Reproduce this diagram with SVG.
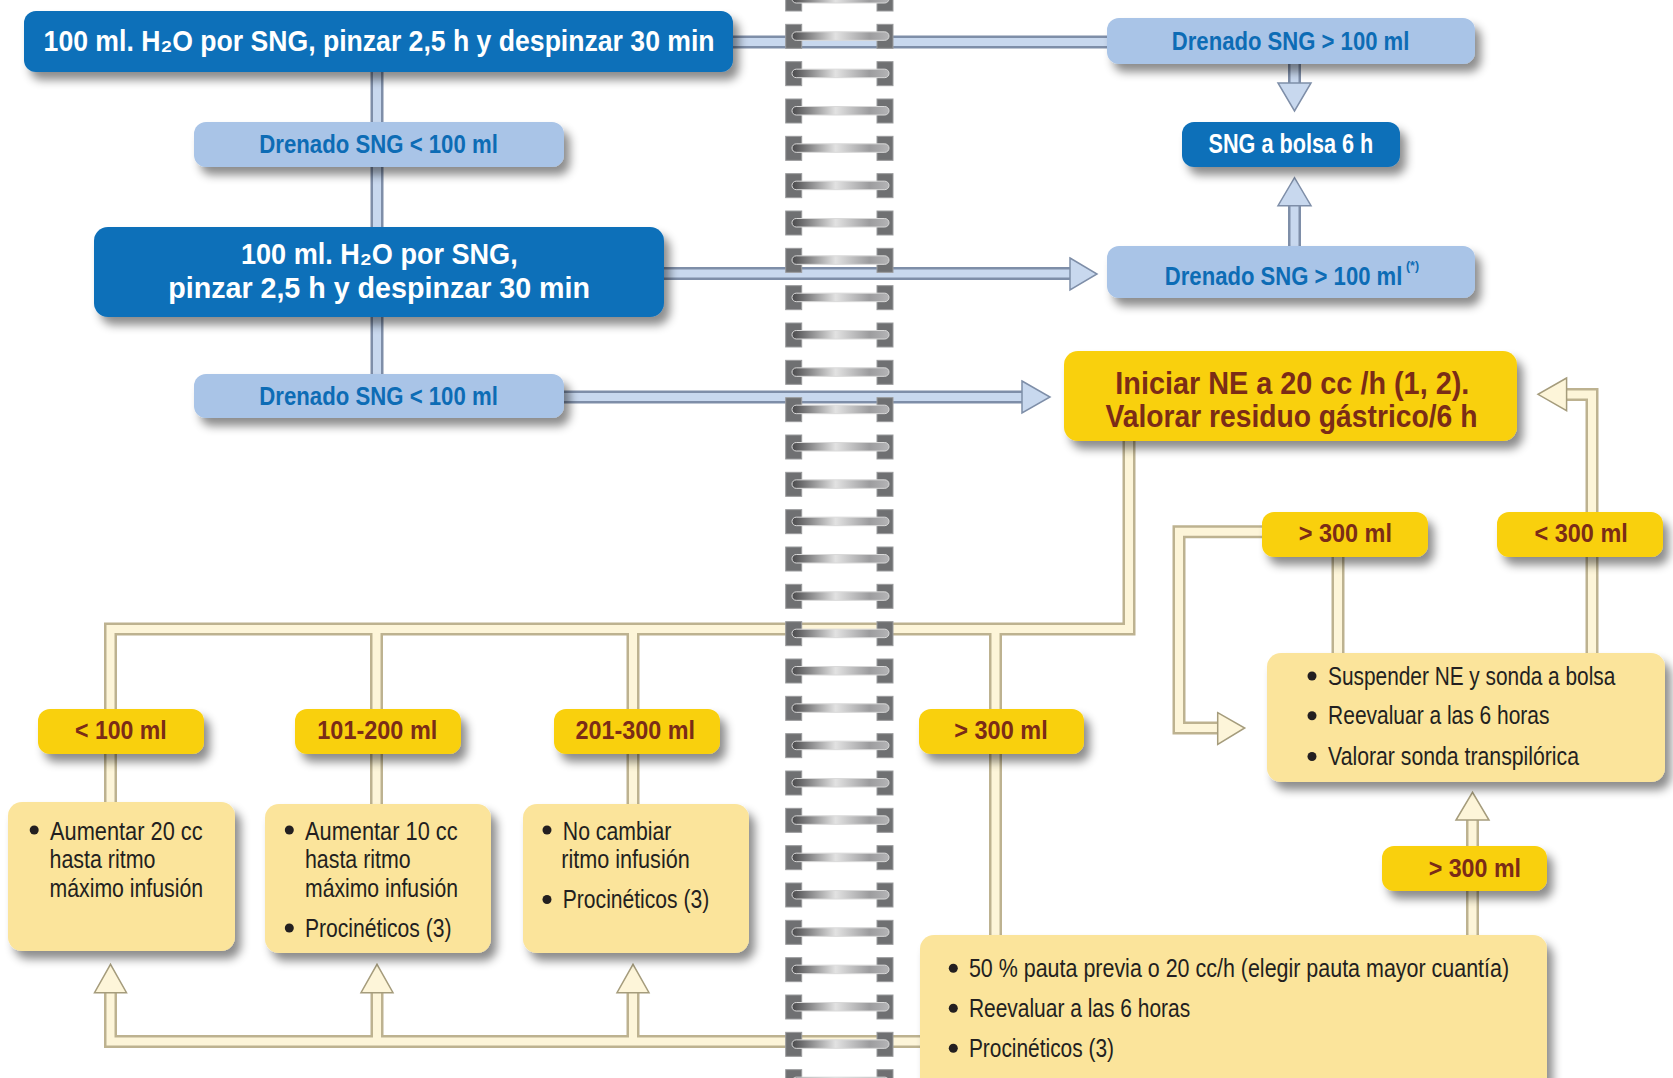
<svg xmlns="http://www.w3.org/2000/svg" width="1673" height="1078" viewBox="0 0 1673 1078">
  <defs>
    <style>
      .dark { fill: #0A6FB9; }
      .pale { fill: #A9C4E7; }
      .gold { fill: #F9D00E; }
      .cream { fill: #FBE49B; }
      .tw { font-family: "Liberation Sans", "DejaVu Sans", Arial, sans-serif; font-weight: bold; fill: #FFFFFF; }
      .tb { font-family: "Liberation Sans", Arial, sans-serif; font-weight: bold; fill: #0D6CB5; }
      .tr { font-family: "Liberation Sans", Arial, sans-serif; font-weight: bold; fill: #7B2C17; }
      .tn { font-family: "Liberation Sans", Arial, sans-serif; fill: #231F20; font-size: 25px; }
      .blue-out { fill: none; stroke: #7E8EA8; stroke-width: 13; stroke-linejoin: miter; }
      .blue-in { fill: none; stroke: #C8D8EE; stroke-width: 8; stroke-linejoin: miter; }
      .blue-head { fill: #C8D8EE; stroke: #7E8EA8; stroke-width: 1.5; stroke-linejoin: miter; }
      .yel-out { fill: none; stroke: #BDB290; stroke-width: 13; stroke-linejoin: miter; }
      .yel-in { fill: none; stroke: #FDF5D9; stroke-width: 8; stroke-linejoin: miter; }
      .yel-head { fill: #FDF5D9; stroke: #A59C7C; stroke-width: 1.5; stroke-linejoin: miter; }
      .dot { fill: #231F20; }
    </style>
    <filter id="shadow" x="-10%" y="-20%" width="130%" height="170%">
      <feDropShadow dx="6" dy="8" stdDeviation="5" flood-color="#000000" flood-opacity="0.45"/>
    </filter>
    <linearGradient id="bar" x1="0" y1="0" x2="1" y2="0">
      <stop offset="0" stop-color="#4A4A4C"/>
      <stop offset="0.45" stop-color="#E2E2E2"/>
      <stop offset="0.8" stop-color="#9C9C9E"/>
      <stop offset="1" stop-color="#B4B4B6"/>
    </linearGradient>
    <!-- one ring of the spiral binding -->
    <g id="ring">
      <rect x="785.7" y="0" width="16" height="24" fill="#6F7072" stroke="#9A9B9D" stroke-width="1"/>
      <rect x="877" y="0" width="16" height="24" fill="#6F7072" stroke="#9A9B9D" stroke-width="1"/>
      <rect x="792" y="7.5" width="97" height="8.5" rx="4.25" fill="url(#bar)" stroke="#D9D9D9" stroke-width="1"/>
    </g>
  </defs>

  <rect width="1673" height="1078" fill="#FFFFFF"/>

  <!-- connectors -->
  <g id="connectors">
    <!-- blue tubes -->
    <path class="blue-out" d="M377,70 V380 M730,42 H1110 M660,273.5 H1072 M560,397 H1024 M1294.5,62 V85 M1294.5,248 V204"/>
    <path class="blue-in" d="M377,70 V380 M730,42 H1110 M660,273.5 H1072 M560,397 H1024 M1294.5,62 V85 M1294.5,248 V204"/>
    <polygon class="blue-head" points="1070,258 1097,274 1070,290"/>
    <polygon class="blue-head" points="1022,381 1050,397 1022,413"/>
    <polygon class="blue-head" points="1278,83 1311,83 1294.5,111"/>
    <polygon class="blue-head" points="1278,205.7 1311,205.7 1294.5,177.7"/>

    <!-- yellow tubes -->
    <path class="yel-out" d="M1129,438 V629 H110.5 V805 M376.5,629 V806 M633,629 V806 M995.5,629 V938 M925,1041.5 H110.5 V990 M377,1041.5 V990 M633,1041.5 V990 M1265,531.7 H1179 V728 H1220 M1338,555 V656 M1592,656 V394.5 H1564 M1472.5,938 V818"/>
    <path class="yel-in" d="M1129,438 V629 H110.5 V805 M376.5,629 V806 M633,629 V806 M995.5,629 V938 M925,1041.5 H110.5 V990 M377,1041.5 V990 M633,1041.5 V990 M1265,531.7 H1179 V728 H1220 M1338,555 V656 M1592,656 V394.5 H1564 M1472.5,938 V818"/>
    <polygon class="yel-head" points="94.5,992.7 126.5,992.7 110.5,964.3"/>
    <polygon class="yel-head" points="361,992.7 393,992.7 377,964.3"/>
    <polygon class="yel-head" points="617,992.7 649,992.7 633,964.3"/>
    <polygon class="yel-head" points="1217.7,712.7 1244.7,728 1217.7,744.3"/>
    <polygon class="yel-head" points="1566.6,378 1538,394.3 1566.6,410.7"/>
    <polygon class="yel-head" points="1456,820 1489,820 1472.5,792.3"/>
  </g>

  <!-- spiral binding -->
  <g id="spiral">
    <use href="#ring" y="-13"/>
    <use href="#ring" y="24.33"/>
    <use href="#ring" y="61.67"/>
    <use href="#ring" y="99"/>
    <use href="#ring" y="136.33"/>
    <use href="#ring" y="173.67"/>
    <use href="#ring" y="211"/>
    <use href="#ring" y="248.33"/>
    <use href="#ring" y="285.67"/>
    <use href="#ring" y="323"/>
    <use href="#ring" y="360.33"/>
    <use href="#ring" y="397.67"/>
    <use href="#ring" y="435"/>
    <use href="#ring" y="472.33"/>
    <use href="#ring" y="509.67"/>
    <use href="#ring" y="547"/>
    <use href="#ring" y="584.33"/>
    <use href="#ring" y="621.67"/>
    <use href="#ring" y="659"/>
    <use href="#ring" y="696.33"/>
    <use href="#ring" y="733.67"/>
    <use href="#ring" y="771"/>
    <use href="#ring" y="808.33"/>
    <use href="#ring" y="845.67"/>
    <use href="#ring" y="883"/>
    <use href="#ring" y="920.33"/>
    <use href="#ring" y="957.67"/>
    <use href="#ring" y="995"/>
    <use href="#ring" y="1032.33"/>
    <use href="#ring" y="1069.67"/>
  </g>

  <!-- blue column -->
  <g id="node-h2o-1">
    <rect class="dark" x="24" y="11" width="709" height="61" rx="12" filter="url(#shadow)"/>
    <text class="tw" x="43.6" y="50.5" font-size="30" textLength="671" lengthAdjust="spacingAndGlyphs">100 ml. H₂O por SNG, pinzar 2,5 h y despinzar 30 min</text>
  </g>
  <g id="node-drenado-lt-1">
    <rect class="pale" x="194" y="122" width="370" height="45" rx="12" filter="url(#shadow)"/>
    <text class="tb" x="259.3" y="153" font-size="26" textLength="238.5" lengthAdjust="spacingAndGlyphs">Drenado SNG &lt; 100 ml</text>
  </g>
  <g id="node-h2o-2">
    <rect class="dark" x="94" y="227" width="570" height="90" rx="14" filter="url(#shadow)"/>
    <text class="tw" x="241" y="264" font-size="30" textLength="276.7" lengthAdjust="spacingAndGlyphs">100 ml. H₂O por SNG,</text>
    <text class="tw" x="168.2" y="297.7" font-size="30" textLength="421.8" lengthAdjust="spacingAndGlyphs">pinzar 2,5 h y despinzar 30 min</text>
  </g>
  <g id="node-drenado-lt-2">
    <rect class="pale" x="194" y="374" width="370" height="44" rx="12" filter="url(#shadow)"/>
    <text class="tb" x="259.3" y="405.4" font-size="26" textLength="238.5" lengthAdjust="spacingAndGlyphs">Drenado SNG &lt; 100 ml</text>
  </g>

  <!-- right column -->
  <g id="node-drenado-gt-1">
    <rect class="pale" x="1107" y="18" width="368" height="46" rx="12" filter="url(#shadow)"/>
    <text class="tb" x="1171.8" y="50" font-size="26" textLength="237.6" lengthAdjust="spacingAndGlyphs">Drenado SNG &gt; 100 ml</text>
  </g>
  <g id="node-bolsa">
    <rect class="dark" x="1182" y="122" width="218" height="45" rx="12" filter="url(#shadow)"/>
    <text class="tw" x="1208.5" y="153" font-size="27" textLength="164.8" lengthAdjust="spacingAndGlyphs">SNG a bolsa 6 h</text>
  </g>
  <g id="node-drenado-gt-2">
    <rect class="pale" x="1107" y="246" width="368" height="52" rx="12" filter="url(#shadow)"/>
    <text class="tb" transform="translate(1164.8,285) scale(0.85,1)" x="0" y="0" font-size="26" textLength="279.5" lengthAdjust="spacingAndGlyphs">Drenado SNG &gt; 100 ml</text>
    <text class="tb" x="1406" y="270" font-size="12" textLength="13" lengthAdjust="spacingAndGlyphs">(*)</text>
  </g>
  <g id="node-iniciar">
    <rect class="gold" x="1064" y="351" width="453" height="90" rx="14" filter="url(#shadow)"/>
    <text class="tr" x="1115.3" y="394" font-size="31" textLength="354" lengthAdjust="spacingAndGlyphs">Iniciar NE a 20 cc /h (1, 2).</text>
    <text class="tr" x="1105.4" y="427.2" font-size="31" textLength="372" lengthAdjust="spacingAndGlyphs">Valorar residuo gástrico/6 h</text>
  </g>

  <!-- residue labels -->
  <g id="label-lt100">
    <rect class="gold" x="38" y="709" width="166" height="45" rx="12" filter="url(#shadow)"/>
    <text class="tr" x="75" y="739.3" font-size="25" textLength="91.8" lengthAdjust="spacingAndGlyphs">&lt; 100 ml</text>
  </g>
  <g id="label-101-200">
    <rect class="gold" x="295" y="709" width="166" height="45" rx="12" filter="url(#shadow)"/>
    <text class="tr" x="317.3" y="739.3" font-size="25" textLength="120" lengthAdjust="spacingAndGlyphs">101-200 ml</text>
  </g>
  <g id="label-201-300">
    <rect class="gold" x="554" y="709" width="166" height="45" rx="12" filter="url(#shadow)"/>
    <text class="tr" x="575.5" y="739.3" font-size="25" textLength="119.5" lengthAdjust="spacingAndGlyphs">201-300 ml</text>
  </g>
  <g id="label-gt300-a">
    <rect class="gold" x="919" y="709" width="165" height="45" rx="12" filter="url(#shadow)"/>
    <text class="tr" x="954.3" y="739.3" font-size="25" textLength="93.4" lengthAdjust="spacingAndGlyphs">&gt; 300 ml</text>
  </g>
  <g id="label-gt300-b">
    <rect class="gold" x="1262" y="512" width="166" height="45" rx="12" filter="url(#shadow)"/>
    <text class="tr" x="1298.7" y="542.3" font-size="25" textLength="93.3" lengthAdjust="spacingAndGlyphs">&gt; 300 ml</text>
  </g>
  <g id="label-lt300">
    <rect class="gold" x="1497" y="512" width="166" height="45" rx="12" filter="url(#shadow)"/>
    <text class="tr" x="1534.6" y="542.3" font-size="25" textLength="93.2" lengthAdjust="spacingAndGlyphs">&lt; 300 ml</text>
  </g>
  <g id="label-gt300-c">
    <rect class="gold" x="1382" y="846" width="165" height="45" rx="12" filter="url(#shadow)"/>
    <text class="tr" x="1428.7" y="876.7" font-size="25" textLength="92.3" lengthAdjust="spacingAndGlyphs">&gt; 300 ml</text>
  </g>

  <!-- action boxes -->
  <g id="box-lt100">
    <rect class="cream" x="8" y="802" width="227" height="149" rx="14" filter="url(#shadow)"/>
    <circle class="dot" cx="34.2" cy="830" r="4.5"/>
    <text class="tn" x="50" y="839.5" textLength="152.6" lengthAdjust="spacingAndGlyphs">Aumentar 20 cc</text>
    <text class="tn" x="49.5" y="868.3" textLength="106" lengthAdjust="spacingAndGlyphs">hasta ritmo</text>
    <text class="tn" x="49.5" y="896.7" textLength="153.6" lengthAdjust="spacingAndGlyphs">máximo infusión</text>
  </g>
  <g id="box-101-200">
    <rect class="cream" x="265" y="804" width="226" height="149" rx="14" filter="url(#shadow)"/>
    <circle class="dot" cx="289.3" cy="830" r="4.5"/>
    <text class="tn" x="305" y="839.5" textLength="152.6" lengthAdjust="spacingAndGlyphs">Aumentar 10 cc</text>
    <text class="tn" x="305" y="868.3" textLength="105.6" lengthAdjust="spacingAndGlyphs">hasta ritmo</text>
    <text class="tn" x="305" y="896.7" textLength="153" lengthAdjust="spacingAndGlyphs">máximo infusión</text>
    <circle class="dot" cx="289.3" cy="928" r="4.5"/>
    <text class="tn" x="305" y="936.7" textLength="146.5" lengthAdjust="spacingAndGlyphs">Procinéticos (3)</text>
  </g>
  <g id="box-201-300">
    <rect class="cream" x="523" y="804" width="226" height="149" rx="14" filter="url(#shadow)"/>
    <circle class="dot" cx="547" cy="830" r="4.5"/>
    <text class="tn" x="562.8" y="839.5" textLength="108.6" lengthAdjust="spacingAndGlyphs">No cambiar</text>
    <text class="tn" x="561.2" y="868.3" textLength="128.6" lengthAdjust="spacingAndGlyphs">ritmo infusión</text>
    <circle class="dot" cx="547" cy="899.5" r="4.5"/>
    <text class="tn" x="562.8" y="908.3" textLength="146.4" lengthAdjust="spacingAndGlyphs">Procinéticos (3)</text>
  </g>
  <g id="box-suspender">
    <rect class="cream" x="1267" y="653" width="398" height="129" rx="14" filter="url(#shadow)"/>
    <circle class="dot" cx="1312" cy="676" r="4.5"/>
    <text class="tn" x="1328.1" y="685" textLength="287.2" lengthAdjust="spacingAndGlyphs">Suspender NE y sonda a bolsa</text>
    <circle class="dot" cx="1312" cy="715.7" r="4.5"/>
    <text class="tn" x="1328.1" y="724.3" textLength="221.4" lengthAdjust="spacingAndGlyphs">Reevaluar a las 6 horas</text>
    <circle class="dot" cx="1312" cy="756.5" r="4.5"/>
    <text class="tn" x="1328.1" y="765" textLength="250.9" lengthAdjust="spacingAndGlyphs">Valorar sonda transpilórica</text>
  </g>
  <g id="box-pauta">
    <rect class="cream" x="920" y="935" width="627" height="170" rx="14" filter="url(#shadow)"/>
    <circle class="dot" cx="953.3" cy="968.3" r="4.5"/>
    <text class="tn" x="968.9" y="977.3" textLength="540.2" lengthAdjust="spacingAndGlyphs">50 % pauta previa o 20 cc/h (elegir pauta mayor cuantía)</text>
    <circle class="dot" cx="953.3" cy="1008.3" r="4.5"/>
    <text class="tn" x="968.9" y="1017.3" textLength="221.3" lengthAdjust="spacingAndGlyphs">Reevaluar a las 6 horas</text>
    <circle class="dot" cx="953.3" cy="1048.3" r="4.5"/>
    <text class="tn" x="968.9" y="1057.3" textLength="145.1" lengthAdjust="spacingAndGlyphs">Procinéticos (3)</text>
  </g>
</svg>
